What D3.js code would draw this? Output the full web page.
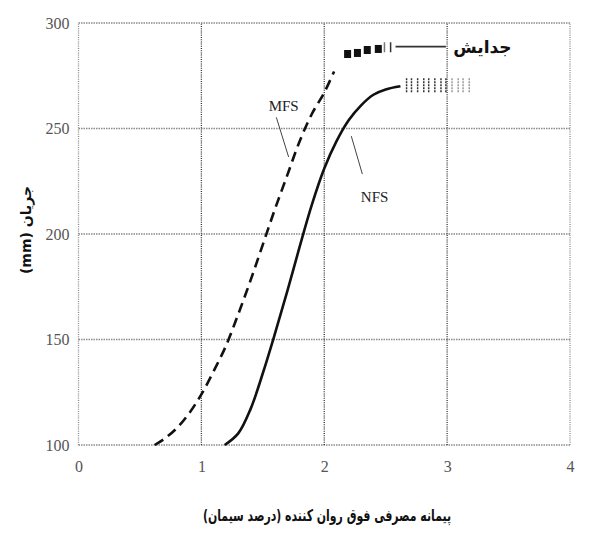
<!DOCTYPE html>
<html>
<head>
<meta charset="utf-8">
<script src="https://cdn.jsdelivr.net/npm/d3@7"></script>
<style>
  html, body { margin: 0; padding: 0; background: #fff; }
  svg { display: block; }
</style>
</head>
<body>
<svg id="chart" width="600" height="536"></svg>
<script>
// ---- data ----
const xTicks = [0, 1, 2, 3, 4];
const yTicks = [100, 150, 200, 250, 300];

const mfsX = [0.62, 0.70, 0.80, 0.90, 1.00, 1.10, 1.20, 1.30, 1.40, 1.50, 1.60, 1.70, 1.80, 1.90, 2.00, 2.08];
const mfsY = [100, 103, 108, 115, 124, 135, 147, 162, 178, 195, 212, 228, 244, 257, 267, 277];

const nfsX = [1.19, 1.30, 1.40, 1.50, 1.60, 1.70, 1.80, 1.90, 2.00, 2.10, 2.20, 2.30, 2.40, 2.50, 2.62];
const nfsY = [100, 105.5, 117, 134, 153, 173, 194, 214, 231, 244, 254, 261, 266, 268.5, 270];

// segregation markers
const mfsSegX = [2.19, 2.27, 2.35, 2.44];
const mfsSegY = [285.3, 285.8, 287.2, 287.7];
const mfsBarX = [2.49, 2.54];
const mfsBarY = 288.5;
const nfsHatchX = [2.67, 2.71, 2.76, 2.81, 2.85, 2.90, 2.95, 2.99, 3.04, 3.09, 3.13, 3.18];
const nfsHatchY = 270.5;

const legendLine = { x1: 2.58, x2: 2.99, y: 288.8, label: "جدایش", tx: 3.05 };

const labels = [
  { text: "MFS", x: 1.67, y: 258.3, lx1: 1.61, ly1: 255.3, lx2: 1.71, ly2: 236.5 },
  { text: "NFS", x: 2.41, y: 215.2, lx1: 2.22, ly1: 246.4, lx2: 2.31, ly2: 228.4 }
];

const xTitle = "پیمانه مصرفی فوق روان کننده (درصد سیمان)";
const yTitle = "جریان (mm)";

// ---- chart ----
const svg = d3.select("#chart");
const x = d3.scaleLinear().domain([0, 4]).range([78.5, 570]);
const y = d3.scaleLinear().domain([100, 300]).range([445, 23]);

const serif = "'Liberation Serif', 'DejaVu Serif', serif";
const arabic = "'DejaVu Sans', sans-serif";

// grid
const g = svg.append("g");
g.selectAll("line.h").data(yTicks).join("line")
  .attr("x1", x(0)).attr("x2", x(4))
  .attr("y1", d => y(d)).attr("y2", d => y(d))
  .attr("stroke", "#8a8a8a").attr("stroke-width", 1.6)
  .attr("stroke-dasharray", "1.5,1");
g.selectAll("line.v").data(xTicks).join("line")
  .attr("y1", y(100)).attr("y2", y(300))
  .attr("x1", d => x(d)).attr("x2", d => x(d))
  .attr("stroke", d => (d === 0 || d === 4) ? "#8a8a8a" : "#333")
  .attr("stroke-width", 1.3)
  .attr("stroke-dasharray", "1,1.2");

// axes (labels only)
const xAxis = d3.axisBottom(x).tickValues(xTicks).tickSize(0).tickPadding(16).tickFormat(d3.format("d"));
const yAxis = d3.axisLeft(y).tickValues(yTicks).tickSize(0).tickPadding(9).tickFormat(d3.format("d"));
const gx = svg.append("g").attr("transform", `translate(0,${y(100)})`).call(xAxis);
const gy = svg.append("g").attr("transform", `translate(${x(0)},0)`).call(yAxis);
[gx, gy].forEach(a => {
  a.select(".domain").remove();
  a.selectAll("text").attr("font-family", serif).attr("font-size", 16).attr("fill", "#555");
});

// curves
const line = d3.line().x(d => x(d[0])).y(d => y(d[1])).curve(d3.curveCatmullRom.alpha(0.5));
svg.append("path").datum(mfsX.map((v, i) => [v, mfsY[i]]))
  .attr("d", line).attr("fill", "none").attr("stroke", "#111")
  .attr("stroke-width", 2.6).attr("stroke-dasharray", "10,6");
svg.append("path").datum(nfsX.map((v, i) => [v, nfsY[i]]))
  .attr("d", line).attr("fill", "none").attr("stroke", "#111")
  .attr("stroke-width", 2.6);

// segregation squares (MFS)
svg.selectAll("rect.seg").data(mfsSegX.map((v, i) => [v, mfsSegY[i]])).join("rect")
  .attr("x", d => x(d[0]) - 3.5).attr("y", d => y(d[1]) - 4)
  .attr("width", 7).attr("height", 8).attr("fill", "#111");
svg.selectAll("line.segbar").data(mfsBarX).join("line")
  .attr("x1", d => x(d)).attr("x2", d => x(d))
  .attr("y1", y(mfsBarY) - 5).attr("y2", y(mfsBarY) + 5)
  .attr("stroke", (d, i) => i === 0 ? "#777" : "#333").attr("stroke-width", 1.5);

// hatches (NFS)
svg.selectAll("line.hatch").data(nfsHatchX).join("line")
  .attr("x1", d => x(d)).attr("x2", d => x(d))
  .attr("y1", y(nfsHatchY) - 7).attr("y2", y(nfsHatchY) + 7)
  .attr("stroke", d => d < 3 ? "#333" : "#999").attr("stroke-width", 1.5)
  .attr("stroke-dasharray", "2,1");

// legend line + text
svg.append("line")
  .attr("x1", x(legendLine.x1)).attr("x2", x(legendLine.x2))
  .attr("y1", y(legendLine.y)).attr("y2", y(legendLine.y))
  .attr("stroke", "#333").attr("stroke-width", 1.8);
svg.append("text")
  .attr("x", x(legendLine.tx)).attr("y", y(legendLine.y) + 6)
  .attr("font-family", arabic).attr("font-size", 17).attr("font-weight", "bold")
  .attr("fill", "#111")
  .text(legendLine.label);

// labels with leaders
labels.forEach(l => {
  svg.append("text").attr("x", x(l.x)).attr("y", y(l.y))
    .attr("text-anchor", "middle").attr("font-family", serif)
    .attr("font-size", 15).attr("fill", "#222").text(l.text);
  svg.append("line")
    .attr("x1", x(l.lx1)).attr("y1", y(l.ly1))
    .attr("x2", x(l.lx2)).attr("y2", y(l.ly2))
    .attr("stroke", "#444").attr("stroke-width", 1);
});

// axis titles
svg.append("text")
  .attr("x", 327).attr("y", 521)
  .attr("text-anchor", "middle").attr("direction", "rtl")
  .attr("font-family", arabic).attr("font-size", 16).attr("font-weight", "bold")
  .attr("textLength", 248).attr("lengthAdjust", "spacingAndGlyphs")
  .attr("fill", "#111").text(xTitle);
svg.append("text")
  .attr("transform", "translate(31,230) rotate(-90)")
  .attr("text-anchor", "middle").attr("direction", "rtl")
  .attr("font-family", arabic).attr("font-size", 14).attr("font-weight", "bold")
  .attr("fill", "#111").text(yTitle);
</script>
</body>
</html>
